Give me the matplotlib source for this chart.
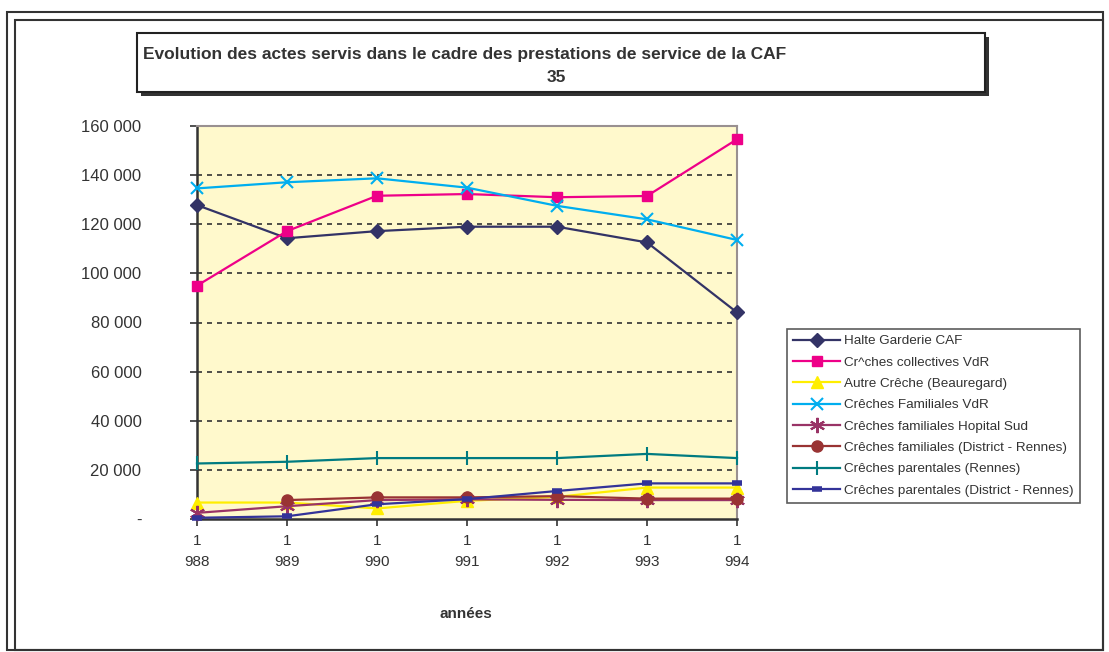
import numpy as np
import matplotlib
matplotlib.use('Agg')
import matplotlib.pyplot as plt
from matplotlib.patches import Rectangle

plt.rcParams['font.family'] = ['Liberation Sans', 'DejaVu Sans']

# ── data ────────────────────────────────────────────────────────────────────
years = [1988, 1989, 1990, 1991, 1992, 1993, 1994]
year_labels = ['1\n988', '1\n989', '1\n990', '1\n991', '1\n992', '1\n993', '1\n994']

halte_garderie   = [127800, 114300, 117200, 119000, 119000, 112600, 84100]
creches_coll     = [95000, 117200, 131600, 132300, 131000, 131500, 154600]
autre_creche     = [6700, 6700, 4300, 7400, 9000, 12800, 12800]
fam_vdr          = [134600, 137100, 138700, 134900, 127500, 122000, 113600]
fam_hopital      = [2500, 5200, 7700, 8000, 7800, 7700, 7700]
fam_district     = [np.nan, 7700, 8800, 8800, 9300, 8300, 8300]
par_rennes       = [22600, 23300, 24800, 24800, 24800, 26500, 24800]
par_district     = [500, 1100, 6000, 8100, 11400, 14500, 14500]

y_ticks = [0, 20000, 40000, 60000, 80000, 100000, 120000, 140000, 160000]
y_labels = ['-', '20 000', '40 000', '60 000', '80 000', '100 000',
            '120 000', '140 000', '160 000']

W, H = 1109, 652
fig = plt.figure(figsize=(W / 100, H / 100), dpi=100)
fig.patch.set_facecolor('white')

TXT = '#333333'

# ── frame + title box on a full-figure overlay ──────────────────────────────
bg = fig.add_axes([0, 0, 1, 1])
bg.set_xlim(0, W)
bg.set_ylim(H, 0)
bg.axis('off')
bg.add_patch(Rectangle((7, 12), 1096, 638, fill=False, ec='#333333', lw=1.5))
bg.add_patch(Rectangle((15, 20), 1088, 630, fill=False, ec='#333333', lw=1.5))
bg.add_patch(Rectangle((141, 37), 848, 59, fc='#333333', ec='none'))
bg.add_patch(Rectangle((137, 33), 848, 59, fc='white', ec='#222222', lw=1.5))
bg.text(143, 55, 'Evolution des actes servis dans le cadre des prestations de service de la CAF',
        ha='left', va='center', fontsize=12.5, fontweight='bold', color=TXT)
bg.text(556, 77, '35', ha='center', va='center', fontsize=12.5,
        fontweight='bold', color=TXT)
bg.text(466, 614, 'années', ha='center', va='center', fontsize=11,
        fontweight='bold', color=TXT)

# ── plot area ───────────────────────────────────────────────────────────────
ax = fig.add_axes([197 / W, 1 - 519 / H, 540 / W, 393 / H])
ax.set_facecolor('#FFF9CC')

for v in y_ticks[1:]:
    ax.axhline(v, color='#333333', lw=1.2, ls=(0, (3, 3)), zorder=1)

series = [
    (halte_garderie, 'Halte Garderie CAF', '#333366', 'D', 7, 1),
    (creches_coll, 'Cr^ches collectives VdR', '#EE0088', 's', 7.5, 1),
    (autre_creche, 'Autre Crêche (Beauregard)', '#FFEE00', '^', 8, 1),
    (fam_vdr, 'Crêches Familiales VdR', '#00AEEF', 'x', 8, 1.5),
    (fam_hopital, 'Crêches familiales Hopital Sud', '#993366', (6, 2, 0), 11, 1.5),
    (fam_district, 'Crêches familiales (District - Rennes)', '#993333', 'o', 8, 1),
    (par_rennes, 'Crêches parentales (Rennes)', '#007B80', '|', 10, 1.5),
    (par_district, 'Crêches parentales (District - Rennes)', '#333399', '_', 7, 4),
]
for vals, label, col, mk, ms, mew in series:
    ax.plot(years, vals, color=col, lw=1.6, marker=mk, ms=ms, mew=mew,
            mfc=col, mec=col, label=label, zorder=3, clip_on=False)

ax.set_xlim(1988, 1994)
ax.set_ylim(0, 160000)
ax.set_xticks(years)
ax.set_xticklabels(year_labels, fontsize=11, color=TXT, linespacing=1.65)
ax.set_yticks(y_ticks)
ax.set_yticklabels(y_labels, fontsize=12, color=TXT)
ax.tick_params(axis='y', direction='out', length=5, width=1.2, color='#333333', pad=35)
ax.tick_params(axis='x', direction='out', length=5, width=1.2, color='#333333', pad=6)

for s in ['left', 'bottom']:
    ax.spines[s].set_color('#333333')
    ax.spines[s].set_linewidth(1.8)
for s in ['top', 'right']:
    ax.spines[s].set_color('#999090')
    ax.spines[s].set_linewidth(1.5)

leg = ax.legend(loc='upper left', bbox_to_anchor=(787 / W, 1 - 329 / H),
                bbox_transform=fig.transFigure, fontsize=9.7, frameon=True,
                fancybox=False, edgecolor='#333333', handlelength=3.5,
                labelspacing=0.66, borderpad=0.45, handletextpad=0.3,
                borderaxespad=0)
leg.get_frame().set_linewidth(1.2)
for t in leg.get_texts():
    t.set_color(TXT)

plt.savefig('out.png', dpi=100, facecolor='white')
plt.close()
